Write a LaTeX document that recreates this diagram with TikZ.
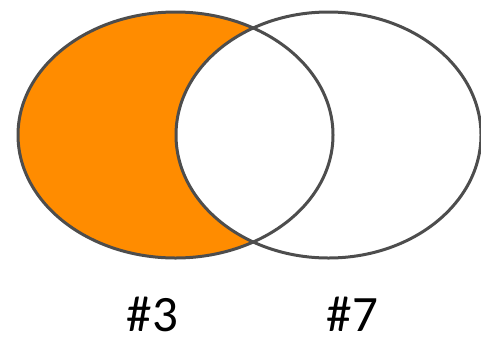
\documentclass[tikz,border=0pt]{standalone}
\usepackage{fontspec}
\setmainfont{Carlito}
\definecolor{setorange}{HTML}{FF8C00}
\definecolor{setedge}{HTML}{4D4D4D}
\tikzset{
  setline/.style={draw=setedge, line width=3pt},
  setlabel/.style={font=\fontsize{51}{51}\selectfont, text=black, anchor=base,
    inner sep=0pt, text depth=0pt}
}
\begin{document}
\begin{tikzpicture}[x=1pt, y=-1pt]
    \useasboundingbox (0,0) rectangle (481,338);

    % Left set minus right set
    \begin{scope}
        \clip (175.5,135) ellipse [x radius=157.5, y radius=123];
        \fill[setorange, even odd rule] (0,0) rectangle (481,338)
            (328.5,135) ellipse [x radius=152.5, y radius=123];
    \end{scope}

    % Outlines of both sets
    \draw[setline] (175.5,135) ellipse [x radius=157.5, y radius=123];
    \draw[setline] (328.5,135) ellipse [x radius=152.5, y radius=123];

    % Labels
    \node[setlabel] (three) at (152.5,331) {\#3};
    \node[setlabel] (seven) at (352.5,331) {\#7};
\end{tikzpicture}
\end{document}
